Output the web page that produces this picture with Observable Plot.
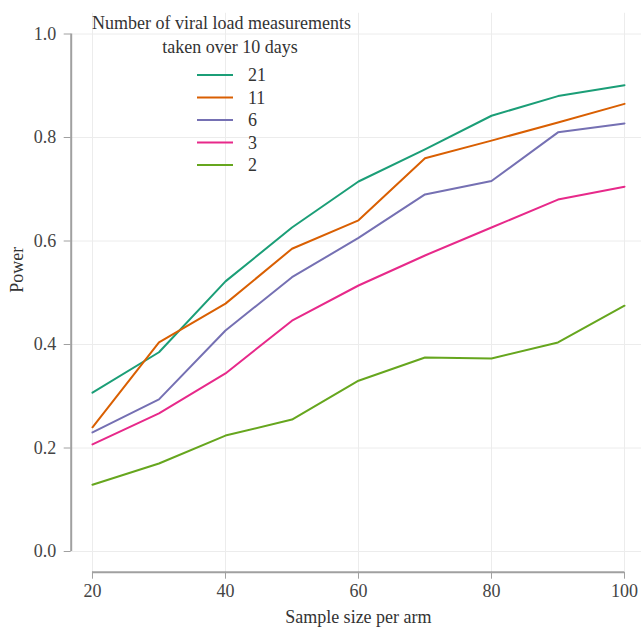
<!DOCTYPE html>
<html>
<head>
<meta charset="utf-8">
<script src="https://cdn.jsdelivr.net/npm/d3@7"></script>
<script src="https://cdn.jsdelivr.net/npm/@observablehq/plot@0.6"></script>
<style>
  html, body { margin: 0; padding: 0; background: #fff; }
  #chart svg { display: block; }
</style>
</head>
<body>
<div id="chart"></div>
<script>
// ---- data ----
const sampleSize = [20, 30, 40, 50, 60, 70, 80, 90, 100];
const measurements = ["21", "11", "6", "3", "2"];
const power21 = [0.307, 0.385, 0.522, 0.626, 0.715, 0.777, 0.842, 0.880, 0.901];
const power11 = [0.240, 0.404, 0.479, 0.585, 0.640, 0.760, 0.794, 0.829, 0.865];
const power6  = [0.230, 0.294, 0.427, 0.530, 0.606, 0.690, 0.716, 0.810, 0.827];
const power3  = [0.207, 0.267, 0.344, 0.446, 0.514, 0.572, 0.626, 0.680, 0.705];
const power2  = [0.129, 0.170, 0.224, 0.255, 0.330, 0.375, 0.373, 0.404, 0.475];
const seriesColors = ["#1B9E77", "#D95F02", "#7570B3", "#E7298A", "#66A61E"];
const xTicks = [20, 40, 60, 80, 100];
const yTicks = [0, 0.2, 0.4, 0.6, 0.8, 1.0];
const legendTitle = ["Number of viral load measurements", "taken over 10 days"];
const xLabel = "Sample size per arm";
const yLabel = "Power";

const powerSeries = [power21, power11, power6, power3, power2];
const rows = [];
measurements.forEach((m, i) => {
  sampleSize.forEach((n, j) => rows.push({n, power: powerSeries[i][j], series: m}));
});

const FONT = "Liberation Serif, Times New Roman, serif";
const axisGray = "#a0a0a0";

const plot = Plot.plot({
  width: 641,
  height: 632,
  marginLeft: 70.7,
  marginRight: 0,
  marginTop: 12.8,
  marginBottom: 60.3,
  style: {fontFamily: FONT, fontSize: "18px", background: "#fff", color: "#333"},
  x: {domain: [16.8, 102.556]},
  y: {domain: [-0.04, 1.04]},
  color: {domain: measurements, range: seriesColors},
  marks: [
    Plot.gridX(xTicks, {stroke: "#ececec", strokeOpacity: 1}),
    Plot.gridY(yTicks, {stroke: "#ececec", strokeOpacity: 1}),
    Plot.ruleX([16.8], {y1: d3.min(yTicks), y2: d3.max(yTicks), stroke: axisGray, strokeWidth: 2}),
    Plot.ruleY([-0.04], {x1: d3.min(xTicks), x2: d3.max(xTicks), stroke: axisGray, strokeWidth: 2}),
    Plot.axisY(yTicks, {anchor: "left", tickSize: 7, tickPadding: 8, tickFormat: d3.format(".1f"),
      stroke: axisGray, fill: "#444", fontSize: 18, label: null}),
    Plot.axisX(xTicks, {anchor: "bottom", tickSize: 7, tickPadding: 5,
      stroke: axisGray, fill: "#444", fontSize: 18, label: null}),
    Plot.text([yLabel], {frameAnchor: "left", rotate: -90, dx: -54, fill: "#333", fontSize: 18}),
    Plot.text([xLabel], {frameAnchor: "bottom", dy: 51, dx: 2, fill: "#333", fontSize: 18}),
    Plot.line(rows, {x: "n", y: "power", z: "series", stroke: "series", strokeWidth: 2})
  ]
});

document.getElementById("chart").appendChild(plot);

// ---- legend (R-style, inside the plot) ----
const svg = d3.select(plot);
const lg = svg.append("g").attr("font-family", FONT).attr("font-size", 18).attr("fill", "#333")
  .attr("text-anchor", "start");
lg.append("text").attr("x", 92).attr("y", 23).attr("dy", "0.35em").attr("text-anchor", "start").text(legendTitle[0]);
lg.append("text").attr("x", 230).attr("y", 47).attr("dy", "0.35em").attr("text-anchor", "middle").text(legendTitle[1]);
measurements.forEach((m, i) => {
  const y = 75 + i * 22.5;
  lg.append("line").attr("x1", 197).attr("x2", 233).attr("y1", y).attr("y2", y)
    .attr("stroke", seriesColors[i]).attr("stroke-width", 2);
  lg.append("text").attr("x", 248).attr("y", y).attr("dy", "0.35em").attr("text-anchor", "start").text(m);
});
</script>
</body>
</html>
